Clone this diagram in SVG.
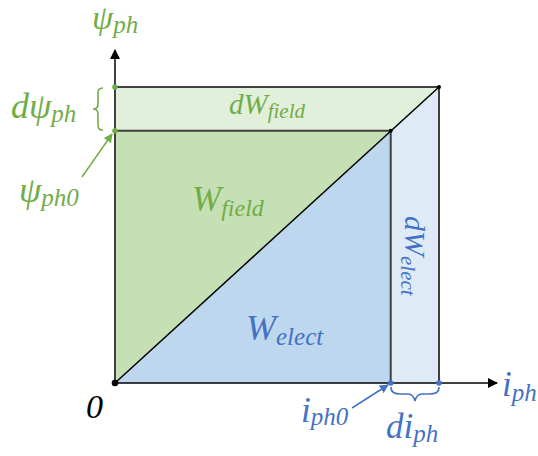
<svg xmlns="http://www.w3.org/2000/svg" width="538" height="456" viewBox="0 0 538 456">
<defs>
<style>
.t{font-family:"Liberation Serif","Times New Roman",serif;font-style:italic}
.g{fill:#70AD47}
.b{fill:#4472C4}
.k{fill:#000}
.edge{stroke:#404040;stroke-width:2;fill:none}
</style>
<marker id="ak" viewBox="0 0 10 10" refX="9" refY="5" markerWidth="10" markerHeight="10" markerUnits="userSpaceOnUse" orient="auto"><path d="M0,0 L10,5 L0,10 z" fill="#000"/></marker>
<marker id="ag" viewBox="0 0 10 10" refX="9" refY="5" markerWidth="9" markerHeight="9" markerUnits="userSpaceOnUse" orient="auto"><path d="M0,0 L10,5 L0,10 z" fill="#70AD47"/></marker>
<marker id="ab" viewBox="0 0 10 10" refX="9" refY="5" markerWidth="9" markerHeight="9" markerUnits="userSpaceOnUse" orient="auto"><path d="M0,0 L10,5 L0,10 z" fill="#4472C4"/></marker>
</defs>
<rect width="538" height="456" fill="#fff"/>
<g id="regions">
<polygon id="dWfield-region" points="115,87 439,87 390.7,130.7 115,130.7" fill="#E2EFDA"/>
<polygon id="dWelect-region" points="390.7,130.7 439,87 439,383 390.7,383" fill="#DEEBF7"/>
<polygon id="Wfield-region" points="115,130.7 390.7,130.7 115,383" fill="#C5E0B4"/>
<polygon id="Welect-region" points="115,383 390.7,130.7 390.7,383" fill="#BDD7EE"/>
</g>
<g id="connectors">
<line class="edge" x1="115" y1="87" x2="439" y2="87"/>
<line class="edge" x1="115" y1="130.7" x2="390.7" y2="130.7"/>
<line class="edge" x1="390.7" y1="130.7" x2="390.7" y2="383"/>
<line class="edge" x1="439" y1="87" x2="439" y2="383"/>
<line class="edge" x1="115" y1="383" x2="115" y2="87"/>
<line x1="115" y1="383" x2="439" y2="87" stroke="#000" stroke-width="1.5"/>
<line id="x-axis" x1="115" y1="383" x2="497" y2="383" stroke="#000" stroke-width="1.5" marker-end="url(#ak)"/>
<line id="y-axis" x1="115" y1="88" x2="115" y2="50" stroke="#000" stroke-width="1.5" marker-end="url(#ak)"/>
<line x1="82" y1="177" x2="112" y2="134" stroke="#70AD47" stroke-width="1.5" marker-end="url(#ag)"/>
<line x1="352" y1="408" x2="388" y2="385" stroke="#4472C4" stroke-width="1.5" marker-end="url(#ab)"/>
<path d="M103,88 C97,88 98,92 98,98 L98,104 C98,108 96,109 93,109 C96,109 98,110 98,114 L98,120 C98,126 97,130 103,130" fill="none" stroke="#70AD47" stroke-width="1.6"/>
<path d="M391,387 C391,393 395,394 401,394 L408,394 C412,394 414,397 415,401 C416,397 418,394 422,394 L429,394 C435,394 439,393 439,387" fill="none" stroke="#4472C4" stroke-width="1.6"/>
</g>
<g id="points">
<circle cx="115" cy="87" r="2.8" fill="#70AD47"/>
<circle cx="115" cy="130.7" r="2.8" fill="#70AD47"/>
<circle cx="390.7" cy="383" r="2.8" fill="#4472C4"/>
<circle cx="439" cy="383" r="2.8" fill="#4472C4"/>
<circle cx="115" cy="383" r="3.3" fill="#000"/>
<circle cx="390.7" cy="130.7" r="2" fill="#000"/>
<circle cx="439" cy="87" r="2" fill="#000"/>
</g>
<g id="label-psi-ph"><text class="t g" x="92" y="29" font-size="34">ψ<tspan font-size="25" dy="4">ph</tspan></text></g>
<g id="label-dpsi-ph"><text class="t g" x="11" y="118" font-size="36">dψ<tspan font-size="25" dy="4">ph</tspan></text></g>
<g id="label-psi-ph0"><text class="t g" x="19" y="202" font-size="36">ψ<tspan font-size="25" dy="4">ph0</tspan></text></g>
<g id="label-dWfield"><text class="t g" x="229" y="114" font-size="29">dW<tspan font-size="21" dy="4">field</tspan></text></g>
<g id="label-Wfield"><text class="t g" x="192" y="211" font-size="35">W<tspan font-size="24" dy="5">field</tspan></text></g>
<g id="label-Welect"><text class="t b" x="246" y="340" font-size="36">W<tspan font-size="25" dy="5">elect</tspan></text></g>
<g id="label-dWelect"><text class="t b" transform="translate(405,216) rotate(90)" font-size="30">dW<tspan font-size="21" dy="4">elect</tspan></text></g>
<g id="label-zero"><text class="t k" x="86" y="418" font-size="34">0</text></g>
<g id="label-iph0"><text class="t b" x="301" y="422" font-size="35">i<tspan font-size="25" dy="3">ph0</tspan></text></g>
<g id="label-iph"><text class="t b" x="502" y="396" font-size="35">i<tspan font-size="25" dy="5">ph</tspan></text></g>
<g id="label-diph"><text class="t b" x="386" y="438" font-size="35">di<tspan font-size="25" dy="4">ph</tspan></text></g>
</svg>
